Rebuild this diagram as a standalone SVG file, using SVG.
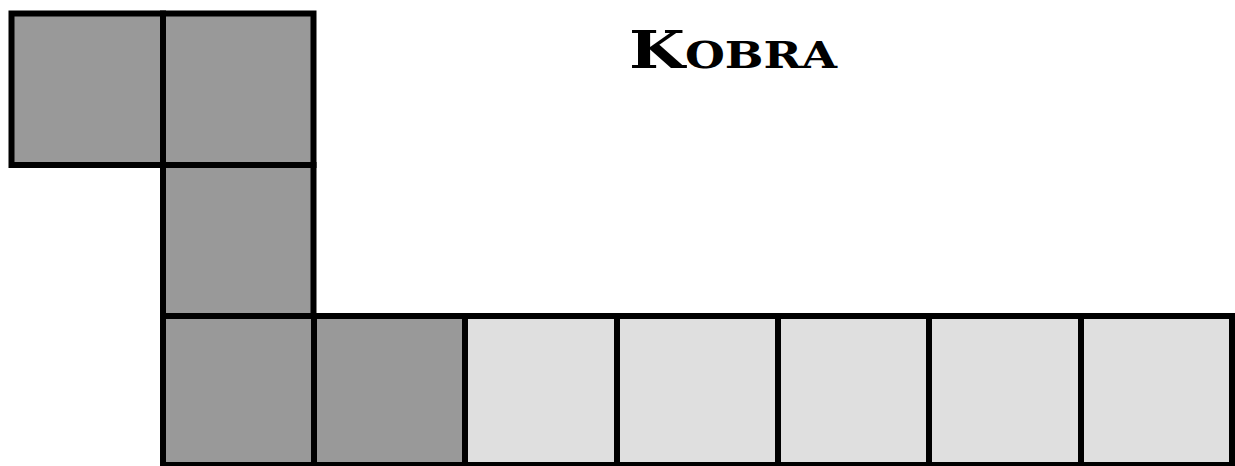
<svg xmlns="http://www.w3.org/2000/svg" width="1235" height="466" viewBox="0 0 1235 466">
<style>
.d{fill:#999999;stroke:#000;stroke-width:6}
.l{fill:#dfdfdf;stroke:#000;stroke-width:6}
.t{font-family:"DejaVu Serif",serif;font-weight:bold;fill:#000}
</style>
<rect width="1235" height="466" fill="#fff"/>
<g id="cells">
<rect id="c1" class="d" x="11.5" y="13.5" width="151.5" height="151.5"/>
<rect id="c2" class="d" x="163" y="13.5" width="150.5" height="151.5"/>
<rect id="c3" class="d" x="163" y="165" width="150.5" height="151"/>
<rect id="c4" class="d" x="163" y="316" width="151" height="149"/>
<rect id="c5" class="d" x="314" y="316" width="151" height="149"/>
<rect id="c6" class="l" x="465" y="316" width="152" height="149"/>
<rect id="c7" class="l" x="617" y="316" width="161" height="149"/>
<rect id="c8" class="l" x="778" y="316" width="151" height="149"/>
<rect id="c9" class="l" x="929" y="316" width="152" height="149"/>
<rect id="c10" class="l" x="1081" y="316" width="151" height="149"/>
</g>
<g id="title">
<text class="t" x="629" y="68" textLength="208" lengthAdjust="spacingAndGlyphs"><tspan font-size="52">K</tspan><tspan font-size="37">OBRA</tspan></text>
</g>
</svg>
